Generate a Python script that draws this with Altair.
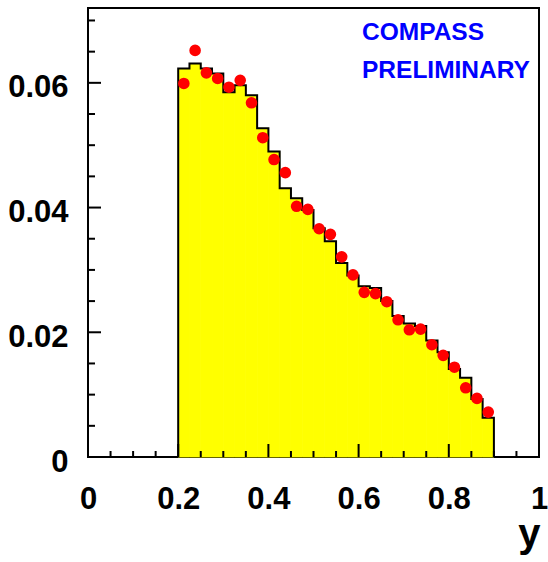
import altair as alt
import pandas as pd

# ---- data ----
bin_start = 0.2
bin_width = 0.025
mc_values = [0.0623, 0.0631, 0.0623, 0.0615, 0.0585, 0.0596, 0.0580, 0.0527,
             0.0490, 0.0431, 0.0415, 0.0396, 0.0367, 0.0346, 0.0311, 0.0291,
             0.0274, 0.0271, 0.0250, 0.0226, 0.0214, 0.0210, 0.0187, 0.0168,
             0.0141, 0.0127, 0.0093, 0.0063]
data_values = [0.0599, 0.0652, 0.0616, 0.0607, 0.0593, 0.0604, 0.0568, 0.0512,
               0.0477, 0.0456, 0.0402, 0.0397, 0.0366, 0.0357, 0.0321, 0.0292,
               0.0264, 0.0262, 0.0249, 0.0220, 0.0204, 0.0205, 0.0180, 0.0163,
               0.0144, 0.0111, 0.0094, 0.0072]
x_major = [0, 0.2, 0.4, 0.6, 0.8, 1]
x_minor = [0.05, 0.1, 0.15, 0.25, 0.3, 0.35, 0.45, 0.5, 0.55, 0.65, 0.7, 0.75, 0.85, 0.9, 0.95]
y_major = [0, 0.02, 0.04, 0.06]
y_minor = [0.005, 0.01, 0.015, 0.025, 0.03, 0.035, 0.045, 0.05, 0.055, 0.065, 0.07]
label_lines = ["COMPASS", "PRELIMINARY"]
x_title = "y"

# ---- tables ----
n = len(mc_values)
lo = [round(bin_start + bin_width * i, 4) for i in range(n)]
hi = [round(bin_start + bin_width * (i + 1), 4) for i in range(n)]
centers = [round((a + b) / 2, 5) for a, b in zip(lo, hi)]

bars = pd.DataFrame({"lo": lo, "hi": hi, "h": mc_values})
pts = pd.DataFrame({"x": centers, "v": data_values})

px, py = [lo[0]], [0.0]
for a, b, h in zip(lo, hi, mc_values):
    px += [a, b]
    py += [h, h]
px.append(hi[-1])
py.append(0.0)
outline = pd.DataFrame({"x": px, "y": py, "i": list(range(len(px)))})

FONT = "Liberation Sans, Arial, Helvetica, sans-serif"
W, H = 451, 449
xs = alt.Scale(domain=[0, 1], nice=False, zero=False)
ys = alt.Scale(domain=[0, 0.072], nice=False)

x_axis = alt.Axis(values=x_major, format="~g", ticks=False, tickSize=0, domain=False,
                  grid=False, labelFont=FONT, labelFontSize=31, labelFontWeight="bold",
                  labelColor="black", labelPadding=27, labelFlush=False, labelOverlap=False,
                  title=x_title, titleFont=FONT, titleFontSize=40, titleFontWeight="bold",
                  titleColor="black", titleX=W + 1, titleY=89, titleAlign="right",
                  titleBaseline="alphabetic", titleAnchor="end")
y_axis = alt.Axis(values=y_major, format="~g", ticks=False, tickSize=0, domain=False,
                  grid=False, labelFont=FONT, labelFontSize=31, labelFontWeight="bold",
                  labelColor="black", labelPadding=20, labelFlush=False, labelOverlap=False,
                  labelOffset=5, title=None)

fill = alt.Chart(bars).mark_rect(color="#ffff00", stroke="#ffff00", strokeWidth=0.8).encode(
    x=alt.X("lo:Q", scale=xs, axis=x_axis),
    x2="hi:Q",
    y=alt.Y("h:Q", scale=ys, axis=y_axis),
    y2=alt.datum(0),
)

line = alt.Chart(outline).mark_line(color="black", strokeWidth=2, interpolate="linear").encode(
    x=alt.X("x:Q", scale=xs),
    y=alt.Y("y:Q", scale=ys),
    order=alt.Order("i:Q"),
)

points = alt.Chart(pts).mark_point(shape="circle", filled=True, size=135, color="#ff0000",
                                    opacity=1).encode(
    x=alt.X("x:Q", scale=xs),
    y=alt.Y("v:Q", scale=ys),
)

xmaj = alt.Chart(pd.DataFrame({"v": x_major})).mark_rule(color="black", strokeWidth=2).encode(
    x=alt.X("v:Q", scale=xs), y=alt.value(H), y2=alt.value(H - 13))
xmin = alt.Chart(pd.DataFrame({"v": x_minor})).mark_rule(color="black", strokeWidth=2).encode(
    x=alt.X("v:Q", scale=xs), y=alt.value(H), y2=alt.value(H - 6))
ymaj = alt.Chart(pd.DataFrame({"v": y_major})).mark_rule(color="black", strokeWidth=2).encode(
    y=alt.Y("v:Q", scale=ys), x=alt.value(0), x2=alt.value(13))
ymin = alt.Chart(pd.DataFrame({"v": y_minor})).mark_rule(color="black", strokeWidth=2).encode(
    y=alt.Y("v:Q", scale=ys), x=alt.value(0), x2=alt.value(7))

txt1 = alt.Chart(pd.DataFrame({"t": [label_lines[0]]})).mark_text(
    font=FONT, fontSize=24.5, fontWeight="bold", color="#0000ff", align="left",
    baseline="alphabetic").encode(text="t:N", x=alt.value(274), y=alt.value(32))
txt2 = alt.Chart(pd.DataFrame({"t": [label_lines[1]]})).mark_text(
    font=FONT, fontSize=24.5, fontWeight="bold", color="#0000ff", align="left",
    baseline="alphabetic").encode(text="t:N", x=alt.value(274), y=alt.value(70))

chart = alt.layer(fill, line, points, xmaj, xmin, ymaj, ymin, txt1, txt2).properties(
    width=W, height=H,
    autosize=alt.AutoSizeParams(type="none"),
    padding={"left": 88, "top": 8, "right": 9, "bottom": 105},
    background="white",
).configure_view(stroke="black", strokeWidth=2)

chart.save("out.html", embed_options={"renderer": "svg", "actions": False})
